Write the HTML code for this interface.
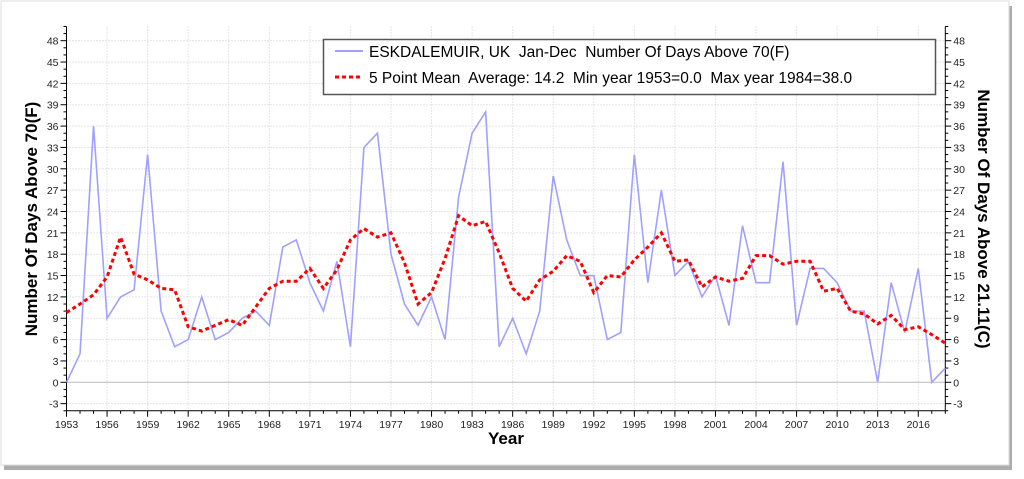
<!DOCTYPE html>
<html><head><meta charset="utf-8"><style>
body{margin:0;background:#fff;width:1024px;height:479px;overflow:hidden}
svg{display:block;font-family:"Liberation Sans",sans-serif}
</style></head><body>
<svg id="s" width="1024" height="479" viewBox="0 0 1024 479">
<rect x="4" y="6" width="1008" height="464" fill="#777" opacity="0.6"/>
<rect x="1" y="1" width="1008" height="464" fill="#fff" stroke="#ddd"/>
<g id="grid"></g>
<rect x="323.5" y="39.5" width="612" height="55" fill="#fff" stroke="#555" stroke-width="1.5"/>
<line x1="335" y1="51" x2="363" y2="51" stroke="#a0a0ff" stroke-width="2"/>
<line x1="335" y1="77" x2="363" y2="77" stroke="#f00" stroke-width="3" stroke-dasharray="4,3"/>
<text x="369" y="57" font-size="15.5" xml:space="preserve">ESKDALEMUIR, UK  Jan-Dec  Number Of Days Above 70(F)</text>
<text x="369" y="83" font-size="15.5" xml:space="preserve">5 Point Mean  Average: 14.2  Min year 1953=0.0  Max year 1984=38.0</text>
<text transform="translate(37,219) rotate(-90)" text-anchor="middle" font-size="17" font-weight="bold">Number Of Days Above 70(F)</text>
<text transform="translate(978,219) rotate(90)" text-anchor="middle" font-size="17" font-weight="bold">Number Of Days Above 21.11(C)</text>
<text x="506" y="444" text-anchor="middle" font-size="17" font-weight="bold">Year</text>
</svg>
<script>
const X=y=>66.5+(y-1953)*13.52, Y=v=>382.3-v*7.117;
const s=document.getElementById('s'),g=document.getElementById('grid');
let h='';
const L=66.5,R=945.3,T=Y(50),B=Y(-4);
for(let v=-3;v<=48;v+=3){const y=Y(v);
 if(v==0)h+=`<line x1="${L}" y1="${y}" x2="${R}" y2="${y}" stroke="#bbb"/>`;
 else h+=`<line x1="${L}" y1="${y}" x2="${R}" y2="${y}" stroke="#ccc" stroke-dasharray="1,2"/>`;
 h+=`<text x="${L-8}" y="${y+4}" font-size="10.5" text-anchor="end" fill="#222">${v}</text>`;
 h+=`<text x="${R+8}" y="${y+4}" font-size="10.5" fill="#222">${v}</text>`;}
for(let v=-4;v<=50;v++){const y=Y(v),l=(v%3==0)?6:3;
 h+=`<line x1="${L-l}" y1="${y}" x2="${L}" y2="${y}" stroke="#000"/><line x1="${R}" y1="${y}" x2="${R+l}" y2="${y}" stroke="#000"/>`;}
for(let yr=1953;yr<=2018;yr++){const x=X(yr),maj=(yr-1953)%3==0;
 if(maj){h+=`<line x1="${x}" y1="${T}" x2="${x}" y2="${B}" stroke="#ccc" stroke-dasharray="1,2"/>`;
 h+=`<text x="${x}" y="${B+17}" font-size="10.5" text-anchor="middle" fill="#222">${yr}</text>`;}
 h+=`<line x1="${x}" y1="${B}" x2="${x}" y2="${B+(maj?6:3)}" stroke="#000"/>`;}
h+=`<line x1="${L}" y1="${T}" x2="${L}" y2="${B}" stroke="#000"/><line x1="${R}" y1="${T}" x2="${R}" y2="${B}" stroke="#000"/><line x1="${L}" y1="${B}" x2="${R}" y2="${B}" stroke="#000"/>`;
const d=[0,4,36,9,12,13,32,10,5,6,12,6,7,9,10,8,19,20,14,10,17,5,33,35,18,11,8,12,6,26,35,38,5,9,4,10,29,20,15,15,6,7,32,14,27,15,17,12,15,8,22,14,14,31,8,16,16,14,10,10,0,14,7,16,0,2];
let p1='',p2='';
const m=d.map((v,i)=>{let a=0,n=0;for(let k=i-2;k<=i+2;k++)if(k>=0&&k<d.length){a+=d[k];n++;}return a/n;});
m[0]=9.8;m[1]=11;m[2]=12.3;m[d.length-2]=6.7;m[d.length-1]=5.5;
d.forEach((v,i)=>{p1+=(i?'L':'M')+X(1953+i)+','+Y(v);p2+=(i?'L':'M')+X(1953+i)+','+Y(m[i]);});
h+=`<path d="${p1}" fill="none" stroke="#a0a0ff" stroke-width="1.6"/>`;
h+=`<path d="${p2}" fill="none" stroke="#f00" stroke-width="3" stroke-dasharray="4,3"/>`;
g.innerHTML=h;
</script>
</body></html>
